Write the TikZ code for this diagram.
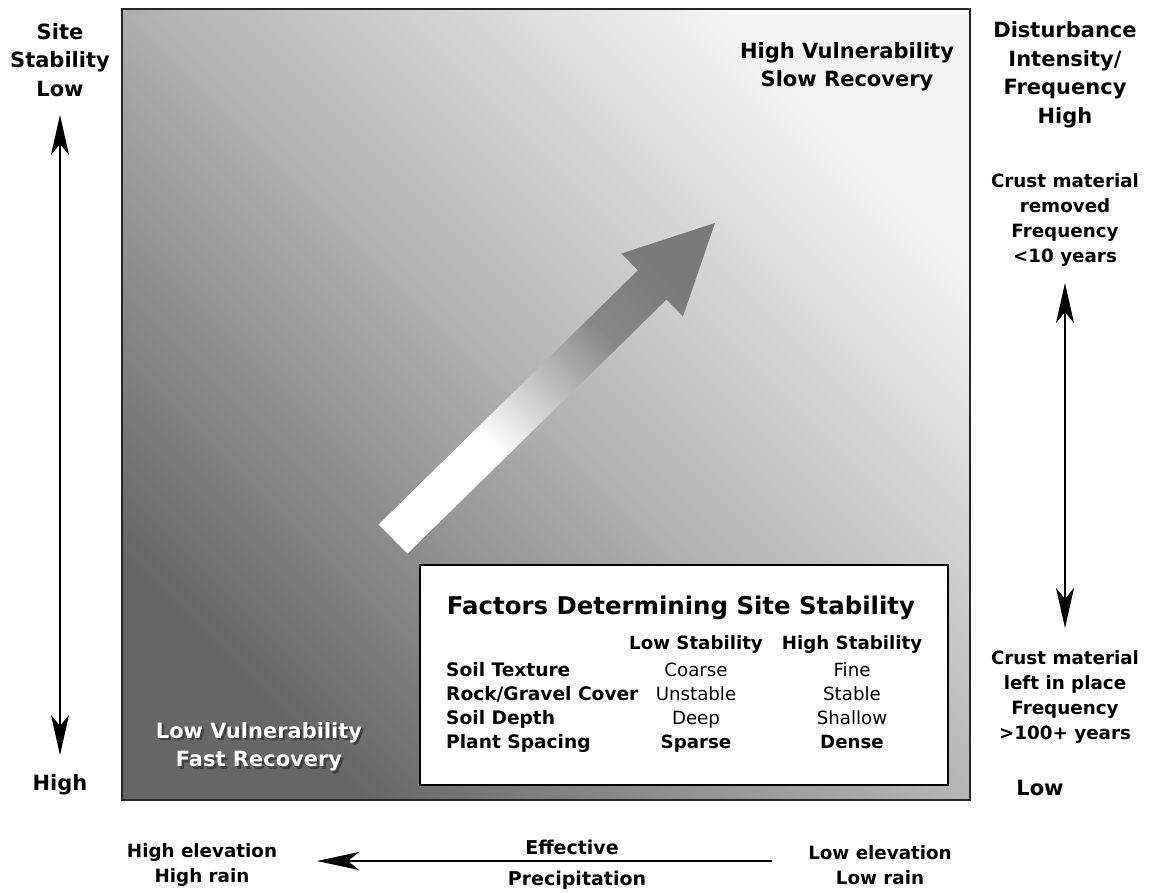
\documentclass[tikz,border=0pt]{standalone}
\usepackage{fontspec}
\setmainfont{DejaVu Sans}
\usetikzlibrary{arrows.meta}

% grey fades for the panel and the trend arrow
\pgfdeclareverticalshading{panelfade}{100bp}{color(0bp)=(black!60); color(25bp)=(black!60); color(50bp)=(black!30); color(75bp)=(black!4); color(100bp)=(black!4)}
\pgfdeclareverticalshading{trendfade}{100bp}{color(0bp)=(white); color(38bp)=(white); color(53bp)=(black!30); color(62bp)=(black!47); color(75bp)=(black!52); color(100bp)=(black!52)}

% white text with a grey drop shadow
\newcommand{\dropshadowed}[1]{\makebox[0pt][l]{\kern2.5pt\raisebox{-2.5pt}{\textcolor{black!75}{#1}}}\textcolor{white}{#1}}

\begin{document}
\begin{tikzpicture}[x=1pt, y=-1pt,
    biglabel/.style={font=\fontsize{21}{28.5}\selectfont\bfseries, align=center},
    smalllabel/.style={font=\fontsize{18.3}{25}\selectfont\bfseries, align=center},
    tabtitle/.style={font=\fontsize{24.4}{28}\selectfont\bfseries, inner sep=0pt},
    tabhead/.style={font=\fontsize{18.2}{22}\selectfont\bfseries, inner sep=0pt, text height=0.75em, text depth=0.2em},
    tabkey/.style={font=\fontsize{18.6}{22}\selectfont\bfseries, inner sep=0pt, anchor=west, text height=0.75em, text depth=0.2em},
    tabval/.style={font=\fontsize{18.2}{22}\selectfont, inner sep=0pt, text height=0.75em, text depth=0.2em},
    axisarrow/.style={{Stealth[length=40pt, width=18pt, inset=11pt]}-{Stealth[length=40pt, width=18pt, inset=11pt]}, line width=2.6pt},
    rainarrow/.style={{Stealth[length=42pt, width=18pt, inset=11pt]}-, line width=2.2pt}
]
\useasboundingbox (0,0) rectangle (1154,893);

% Panel
\shade[shading=panelfade, shading angle=-45] (122,9) rectangle (970,800);
\draw[line width=2.2pt, black!85] (122,9) rectangle (970,800);

% Trend arrow
\shade[shading=trendfade, shading angle=-45]
    (378.6,524.4) -- (637.9,270.3) -- (621.4,253.5) -- (715,223)
    -- (683,316.3) -- (666.6,299.5) -- (407.4,553.6) -- cycle;

% Corner labels
\node[biglabel] (highVul) at (847,67) {High Vulnerability\\Slow Recovery};
\node[biglabel] (lowVul) at (259,748) {\dropshadowed{Low Vulnerability}\\\dropshadowed{Fast Recovery}};

% Factors table
\node[draw, line width=1.6pt, fill=white, minimum width=528pt, minimum height=220pt, inner sep=0pt] (factors) at (684,675) {};
\node[tabtitle] (facTitle) at (681,608) {Factors Determining Site Stability};
\node[tabhead] (colLow) at (696,647) {Low Stability};
\node[tabhead] (colHigh) at (852,647) {High Stability};

\node[tabkey] (keyTexture) at (446,674) {Soil Texture};
\node[tabkey] (keyRock) at (446,698) {Rock/Gravel Cover};
\node[tabkey] (keyDepth) at (446,722) {Soil Depth};
\node[tabkey] (keySpacing) at (446,746) {Plant Spacing};

\node[tabval] (lowTexture) at (696,674) {Coarse};
\node[tabval] (lowRock) at (696,698) {Unstable};
\node[tabval] (lowDepth) at (696,722) {Deep};
\node[tabval, font=\fontsize{18.2}{22}\selectfont\bfseries] (lowSpacing) at (696,746) {Sparse};
\node[tabval] (highTexture) at (852,674) {Fine};
\node[tabval] (highRock) at (852,698) {Stable};
\node[tabval] (highDepth) at (852,722) {Shallow};
\node[tabval, font=\fontsize{18.2}{22}\selectfont\bfseries] (highSpacing) at (852,746) {Dense};

% Site stability axis (left)
\node[biglabel] (stabLow) at (60,60) {Site\\Stability\\Low};
\node[biglabel] (stabHigh) at (60,785) {High};
\coordinate (stabTop) at (60,115);
\coordinate (stabBottom) at (60,755);
\draw[axisarrow] (stabTop) -- (stabBottom);

% Disturbance axis (right)
\node[biglabel] (distHigh) at (1065,75) {Disturbance\\Intensity/\\Frequency\\High};
\node[smalllabel] (crustRemoved) at (1065,220) {Crust material\\removed\\Frequency\\<10 years};
\node[smalllabel] (crustLeft) at (1065,697) {Crust material\\left in place\\Frequency\\>100+ years};
\node[biglabel] (distLow) at (1040,788) {Low};
\coordinate (distTop) at (1065,283);
\coordinate (distBottom) at (1065,628);
\draw[axisarrow] (distTop) -- (distBottom);

% Precipitation axis (bottom)
\node[smalllabel] (highElev) at (202,865) {High elevation\\High rain};
\node[smalllabel] (lowElev) at (880,865) {Low elevation\\Low rain};
\node[smalllabel, font=\fontsize{19}{25}\selectfont\bfseries] (effective) at (572,847) {Effective};
\node[smalllabel, font=\fontsize{19}{25}\selectfont\bfseries] (precip) at (577,880) {Precipitation};
\coordinate (precipRight) at (772,861);
\coordinate (precipLeft) at (317,861);
\draw[rainarrow] (precipLeft) -- (precipRight);

\end{tikzpicture}
\end{document}
